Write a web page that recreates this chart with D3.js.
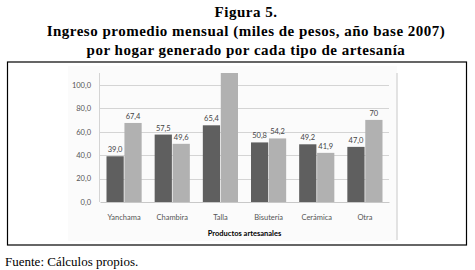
<!DOCTYPE html>
<html>
<head>
<meta charset="utf-8">
<script src="https://cdn.jsdelivr.net/npm/d3@7"></script>
<style>
  body { margin: 0; background: #fff; }
  svg { display: block; }
  .title { font-family: "Liberation Serif", "Times New Roman", serif; font-weight: bold; font-size: 15px; letter-spacing: 0.5px; fill: #000; }
  .tick text { font-family: Lato, "Open Sans", sans-serif; font-size: 7.5px; fill: #555; }
  .val { font-family: Lato, "Open Sans", sans-serif; font-size: 7.5px; fill: #444; }
</style>
</head>
<body>
<div id="chart"></div>
<script>
var categories = ["Yanchama", "Chambira", "Talla", "Bisutería", "Cerámica", "Otra"];
var seriesA = [39.0, 57.5, 65.4, 50.8, 49.2, 47.0];
var seriesB = [67.4, 49.6, 118, 54.2, 41.9, 70];
var labelsA = ["39,0", "57,5", "65,4", "50,8", "49,2", "47,0"];
var labelsB = ["67,4", "49,6", "", "54,2", "41,9", "70"];
var yTicks = [0, 20, 40, 60, 80, 100];

var width = 475, height = 270;
var plot = { left: 100, right: 389, top: 73, bottom: 202 };

var svg = d3.select("#chart").append("svg").attr("width", width).attr("height", height);

// titles
var titles = ["Figura 5.", "Ingreso promedio mensual (miles de pesos, año base 2007)", "por hogar generado por cada tipo de artesanía"];
svg.selectAll("text.title").data(titles).enter().append("text")
  .attr("class", "title")
  .attr("x", 246)
  .attr("y", function (d, i) { return 17 + i * 19; })
  .attr("text-anchor", "middle")
  .text(function (d) { return d; });

// outer box
svg.append("rect").attr("x", 7.5).attr("y", 62).attr("width", 459).attr("height", 183)
  .attr("fill", "none").attr("stroke", "#000").attr("stroke-width", 1.2);

// chart area background
svg.append("rect").attr("x", 68).attr("y", 66).attr("width", 329).attr("height", 175).attr("fill", "#fbfbfb");
svg.append("line").attr("x1", 397).attr("x2", 397).attr("y1", 73).attr("y2", 240)
  .attr("stroke", "#c8c8c8");

var x = d3.scaleBand().domain(categories).range([plot.left, plot.right]).paddingInner(0.27).paddingOuter(0.135);
var xs = d3.scaleBand().domain([0, 1]).range([0, x.bandwidth()]).paddingInner(0.04);
var y = d3.scaleLinear().domain([0, 110]).range([plot.bottom, plot.top]);

// gridlines
svg.append("g").selectAll("line").data(yTicks.slice(1)).enter().append("line")
  .attr("x1", plot.left).attr("x2", plot.right)
  .attr("y1", function (d) { return Math.round(y(d)) + 0.5; })
  .attr("y2", function (d) { return Math.round(y(d)) + 0.5; })
  .attr("stroke", "#d4d4d4");

svg.append("line").attr("x1", plot.left - 0.5).attr("x2", plot.left - 0.5).attr("y1", plot.top).attr("y2", plot.bottom)
  .attr("stroke", "#d4d4d4");

// bars
var rows = categories.map(function (c, i) {
  return { cat: c, vals: [seriesA[i], seriesB[i]], labels: [labelsA[i], labelsB[i]] };
});
var colors = ["#5f5f5f", "#b1b1b1"];
var groups = svg.append("g").selectAll("g").data(rows).enter().append("g")
  .attr("transform", function (d) { return "translate(" + x(d.cat) + ",0)"; });
groups.selectAll("rect").data(function (d) { return d.vals; }).enter().append("rect")
  .attr("x", function (d, i) { return xs(i); })
  .attr("width", xs.bandwidth())
  .attr("y", function (d) { return Math.max(y(d), plot.top); })
  .attr("height", function (d) { return plot.bottom - Math.max(y(d), plot.top); })
  .attr("fill", function (d, i) { return colors[i]; });
groups.selectAll("text").data(function (d) {
  return d.vals.map(function (v, i) { return { v: v, label: d.labels[i], i: i }; });
}).enter().append("text")
  .attr("class", "val")
  .attr("x", function (d) { return xs(d.i) + xs.bandwidth() / 2; })
  .attr("y", function (d) { return y(d.v) - 4; })
  .attr("text-anchor", "middle")
  .text(function (d) { return d.label; });

// axes
var gx = svg.append("g").attr("transform", "translate(0," + plot.bottom + ")")
  .call(d3.axisBottom(x).tickSize(0).tickPadding(13));
gx.select(".domain").attr("stroke", "#c8c8c8");

var gy = svg.append("g").attr("transform", "translate(" + plot.left + ",0)")
  .call(d3.axisLeft(y).tickValues(yTicks).tickSize(0).tickPadding(9)
    .tickFormat(function (d) { return d3.format(".1f")(d).replace(".", ","); }));
gy.select(".domain").remove();

svg.append("text")
  .attr("x", (plot.left + plot.right) / 2)
  .attr("y", 235.5)
  .attr("text-anchor", "middle")
  .style("font-family", "Lato, 'Open Sans', sans-serif")
  .style("font-size", "7.5px")
  .style("font-weight", "bold")
  .style("fill", "#000")
  .text("Productos artesanales");

svg.append("text")
  .attr("x", 5)
  .attr("y", 266)
  .style("font-family", "'Liberation Serif', 'Times New Roman', serif")
  .style("font-size", "13px")
  .style("fill", "#000")
  .text("Fuente: Cálculos propios.");
</script>
</body>
</html>
